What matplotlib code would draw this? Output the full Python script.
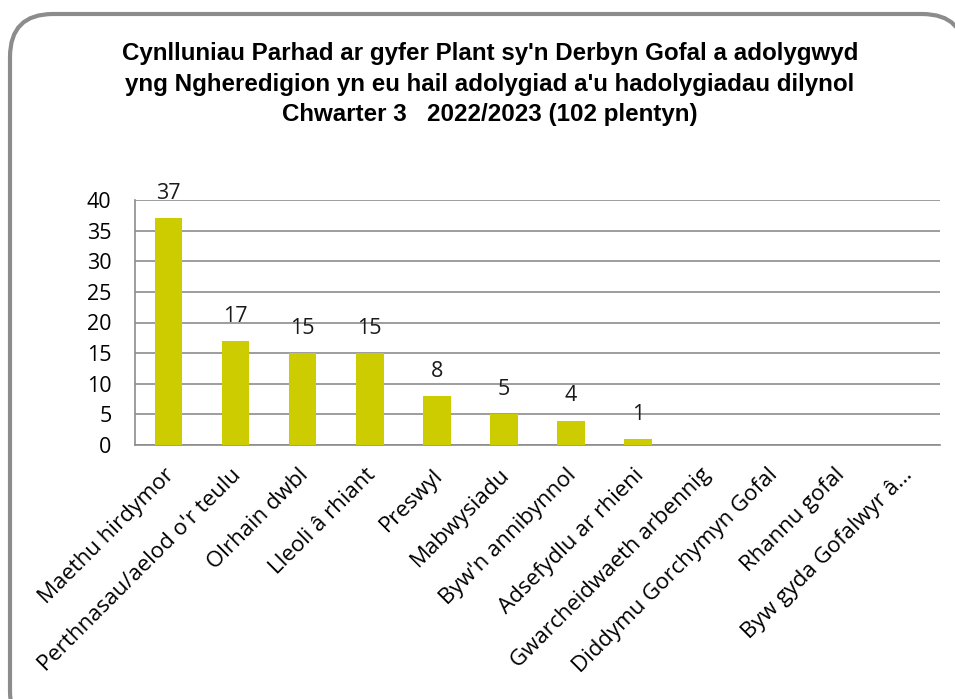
import matplotlib
matplotlib.use("Agg")
from matplotlib import pyplot as plt
from matplotlib.patches import FancyBboxPatch
from matplotlib.transforms import ScaledTranslation

categories = [
    "Maethu hirdymor",
    "Perthnasau/aelod o'r teulu",
    "Olrhain dwbl",
    "Lleoli â rhiant",
    "Preswyl",
    "Mabwysiadu",
    "Byw'n annibynnol",
    "Adsefydlu ar rhieni",
    "Gwarcheidwaeth arbennig",
    "Diddymu Gorchymyn Gofal",
    "Rhannu gofal",
    "Byw gyda Gofalwyr â…",
]
values = [37, 17, 15, 15, 8, 5, 4, 1, 0, 0, 0, 0]
yticks = [0, 5, 10, 15, 20, 25, 30, 35, 40]

title = ("Cynlluniau Parhad ar gyfer Plant sy'n Derbyn Gofal a adolygwyd\n"
         "yng Ngheredigion yn eu hail adolygiad a'u hadolygiadau dilynol\n"
         "Chwarter 3   2022/2023 (102 plentyn)")

BAR = "#cccc00"
GRID = "#8c8c8c"
LABEL_FONT = ["Open Sans", "DejaVu Sans"]

fig = plt.figure(figsize=(9.55, 6.99), dpi=100)

# rounded chart frame, runs off the right and bottom edges
frame = FancyBboxPatch((10 / 955, -0.05), 1.0, 1.05 - 14 / 699,
                       boxstyle="round,pad=0,rounding_size=0.045",
                       transform=fig.transFigure, facecolor="white",
                       edgecolor="#8c8c8c", linewidth=3, zorder=-10,
                       mutation_aspect=955 / 699)
fig.patches.append(frame)

ax = fig.add_axes([135 / 955, 1 - 445 / 699, 805 / 955, 245 / 699])
ax.set_facecolor("none")

x = list(range(len(categories)))
ax.bar(x, values, width=0.41, color=BAR, zorder=3)
for xi, v in zip(x, values):
    if v > 0:
        ax.text(xi, v + 2.3, str(v), ha="center", va="bottom",
                fontsize=15.5, family=LABEL_FONT, color="#1a1a1a")

ax.set_xlim(-0.5, len(categories) - 0.5)
ax.set_ylim(0, 40)
ax.set_yticks(yticks)
ax.set_yticklabels([str(t) for t in yticks], fontsize=15.5, family=LABEL_FONT)
ax.yaxis.grid(True, color=GRID, linewidth=1.2, zorder=0)
ax.tick_params(axis="y", length=0, pad=17)
ax.tick_params(axis="x", length=0, pad=14)

ax.set_xticks(x)
ax.set_xticklabels(categories, rotation=45, ha="right", rotation_mode="anchor",
                   fontsize=16, family=LABEL_FONT)
shift = ScaledTranslation(-5 / 100, 0, fig.dpi_scale_trans)
for lbl in ax.get_xticklabels():
    lbl.set_transform(lbl.get_transform() + shift)

for side in ["top", "right"]:
    ax.spines[side].set_visible(False)
for side in ["bottom", "left"]:
    ax.spines[side].set_color(GRID)
    ax.spines[side].set_linewidth(1.2)

fig.text(490 / 955, 1 - 84 / 699, title, ha="center", va="center",
         fontsize=17.4, fontweight="bold", family=["Liberation Sans", "DejaVu Sans"],
         linespacing=1.4)

fig.savefig("out.png", dpi=100)
